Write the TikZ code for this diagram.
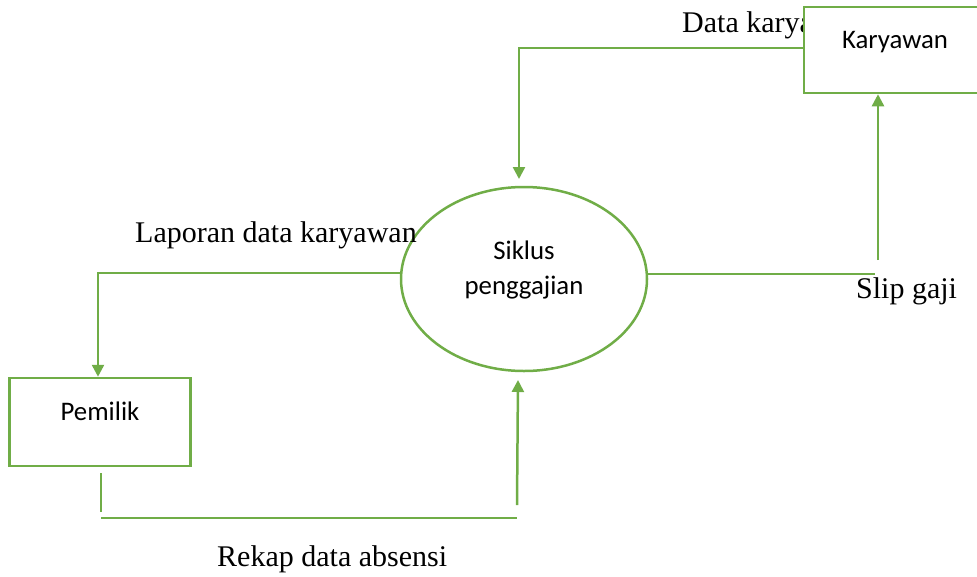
\documentclass[tikz,border=0pt]{standalone}
\usepackage{fontspec}
\setmainfont{Liberation Serif}
\newfontfamily\calibrifont{Carlito}
\usetikzlibrary{arrows.meta,shapes.geometric}
\definecolor{dfdgreen}{RGB}{112,173,71}
\tikzset{
  flow/.style={draw=dfdgreen, line width=2.5pt},
  flowarrow/.style={flow, -{Triangle[width=12pt,length=12pt]}},
  entity/.style={draw=dfdgreen, line width=2.5pt, fill=white, rectangle, inner sep=0pt},
  process/.style={draw=dfdgreen, line width=2.5pt, fill=white, ellipse, inner sep=0pt, minimum width=246pt, minimum height=184pt},
  flowlabel/.style={font=\fontsize{30}{35}\selectfont, inner sep=0pt, anchor=base west},
  boxlabel/.style={font=\calibrifont\fontsize{26.8}{32}\selectfont, inner sep=0pt, anchor=base},
}
\begin{document}
\begin{tikzpicture}[x=1pt,y=-1pt]
\useasboundingbox (0,0) rectangle (977,576);
% label partly hidden by the Karyawan box
\node[flowlabel] (lbldata) at (682,32) {Data karyawan};
% entities and process
\node[entity, minimum width=186pt, minimum height=86pt] (kar) at (897,50) {};
\node[entity, minimum width=181pt, minimum height=88pt] (pem) at (100,422) {};
\node[process] (proc) at (524,279) {};
\node[boxlabel] (kartext) at (895,48) {Karyawan};
\node[boxlabel] (pemtext) at (100,420) {Pemilik};
\node[boxlabel] (proctext1) at (524,259) {Siklus};
\node[boxlabel] (proctext2) at (524,294) {penggajian};
% other labels
\node[flowlabel] (lbllap) at (135,242) {Laporan data karyawan};
\node[flowlabel] (lblslip) at (856,298) {Slip gaji};
\node[flowlabel] (lblrekap) at (217,566) {Rekap data absensi};
% coordinates
\coordinate (k1) at (kar.west |- 0,48);
\coordinate (k2) at (519,48);
\coordinate (k3) at (519,179);
\coordinate (l1) at (401,273);
\coordinate (l2) at (98,273);
\coordinate (s1) at (647,274);
\coordinate (s2) at (875,274);
\coordinate (s3) at (878,260);
\coordinate (r1) at (101,473);
\coordinate (r2) at (101,512);
\coordinate (r3) at (101,518);
\coordinate (r4) at (517,518);
\coordinate (r5) at (517,505);
\coordinate (r6) at (518,380);
% connectors
\draw[flowarrow] (k1) -- (k2) -- (k3);
\draw[flowarrow] (l1) -- (l2) -- (l2 |- pem.north);
\draw[flow] (s1) -- (s2);
\draw[flowarrow] (s3) -- (s3 |- kar.south);
\draw[flow] (r1) -- (r2);
\draw[flow] (r3) -- (r4);
\draw[flowarrow] (r5) -- (r6);
\end{tikzpicture}
\end{document}
